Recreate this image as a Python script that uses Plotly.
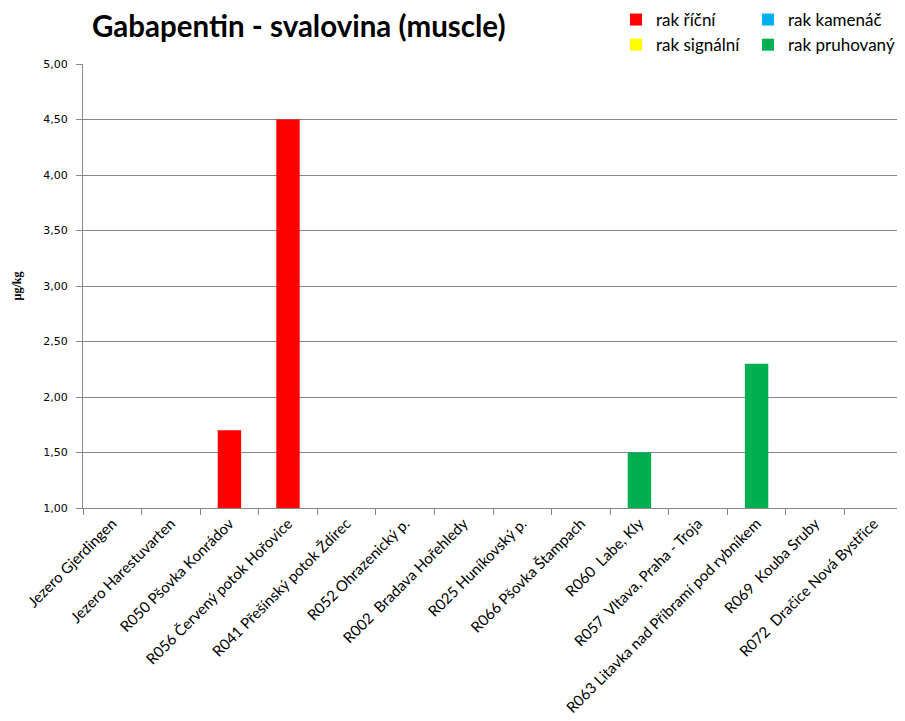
import plotly.graph_objects as go

categories = [
    "Jezero Gjerdingen",
    "Jezero Harestuvarten",
    "R050 Pšovka Konrádov",
    "R056 Červený potok Hořovice",
    "R041 Přešínský potok Ždírec",
    "R052 Ohrazenický p.",
    "R002 \u00a0Bradava Hořehledy",
    "R025 Huníkovský p.",
    "R066 Pšovka Štampach",
    "R060 \u00a0Labe, Kly",
    "R057 \u00a0Vltava, Praha - Troja",
    "R063 Litavka nad Příbramí pod rybníkem",
    "R069 \u00a0Kouba Sruby",
    "R072 \u00a0Dračice Nová Bystřice",
]

rak_ricni = [None, None, 1.70, 4.50, None, None, None, None, None, None, None, None, None, None]
rak_kamenac = [None] * 14
rak_signalni = [None] * 14
rak_pruhovany = [None, None, None, None, None, None, None, None, None, 1.50, None, 2.30, None, None]

# (name, values, colour, legend column)
series = [
    ("rak říční", rak_ricni, "#FF0000", "legend"),
    ("rak signální", rak_signalni, "#FFFF00", "legend"),
    ("rak kamenáč", rak_kamenac, "#00B0F0", "legend2"),
    ("rak pruhovaný", rak_pruhovany, "#00B050", "legend2"),
]

y_ticks = [1.0, 1.5, 2.0, 2.5, 3.0, 3.5, 4.0, 4.5, 5.0]

W, H = 897, 713

fig = go.Figure()
for name, vals, color, leg in series:
    fig.add_trace(go.Bar(
        x=categories, y=vals, name=name, legend=leg,
        marker=dict(color=color, line=dict(width=0)),
        width=0.4,
    ))

legend_common = dict(
    orientation="v",
    yref="paper", y=1.1396, yanchor="top",
    xref="container", xanchor="left",
    font=dict(family="Lato, sans-serif", size=17, color="black"),
    bgcolor="rgba(0,0,0,0)",
    itemsizing="constant",
    tracegroupgap=0,
)

fig.update_layout(
    width=W, height=H,
    paper_bgcolor="white", plot_bgcolor="white",
    margin=dict(l=75, r=2, t=56, b=213, autoexpand=False),
    barmode="overlay",
    separators=", ",
    title=dict(
        text="<b>Gabapentin - svalovina (muscle)</b>",
        font=dict(family="Lato, sans-serif", size=29.5, color="black"),
        xref="container", x=84 / W, xanchor="left",
        yref="container", y=1 - 19 / H, yanchor="middle",
    ),
    legend=dict(x=608 / W, **legend_common),
    legend2=dict(x=740 / W, **legend_common),
    showlegend=True,
)

fig.update_xaxes(
    type="category",
    tickangle=-45,
    tickson="boundaries",
    ticks="outside", ticklen=6, tickcolor="#868686",
    showline=True, linecolor="#868686", linewidth=1,
    showgrid=False,
    tickfont=dict(family="Lato, sans-serif", size=15, color="black"),
    range=[-0.5, 13.5],
)

fig.update_yaxes(
    range=[1, 5],
    tickvals=y_ticks,
    tickformat=".2f",
    ticks="outside", ticklen=6, tickcolor="#868686",
    ticklabelstandoff=6,
    showline=True, linecolor="#868686", linewidth=1,
    showgrid=True, gridcolor="#868686", gridwidth=1,
    zeroline=False,
    tickfont=dict(family="DejaVu Sans, Verdana, sans-serif", size=11, color="black"),
    title=dict(text="<b>µg/kg</b>", font=dict(family="Liberation Serif, serif", size=12, color="black"), standoff=19),
)

fig.write_html("out.html")
